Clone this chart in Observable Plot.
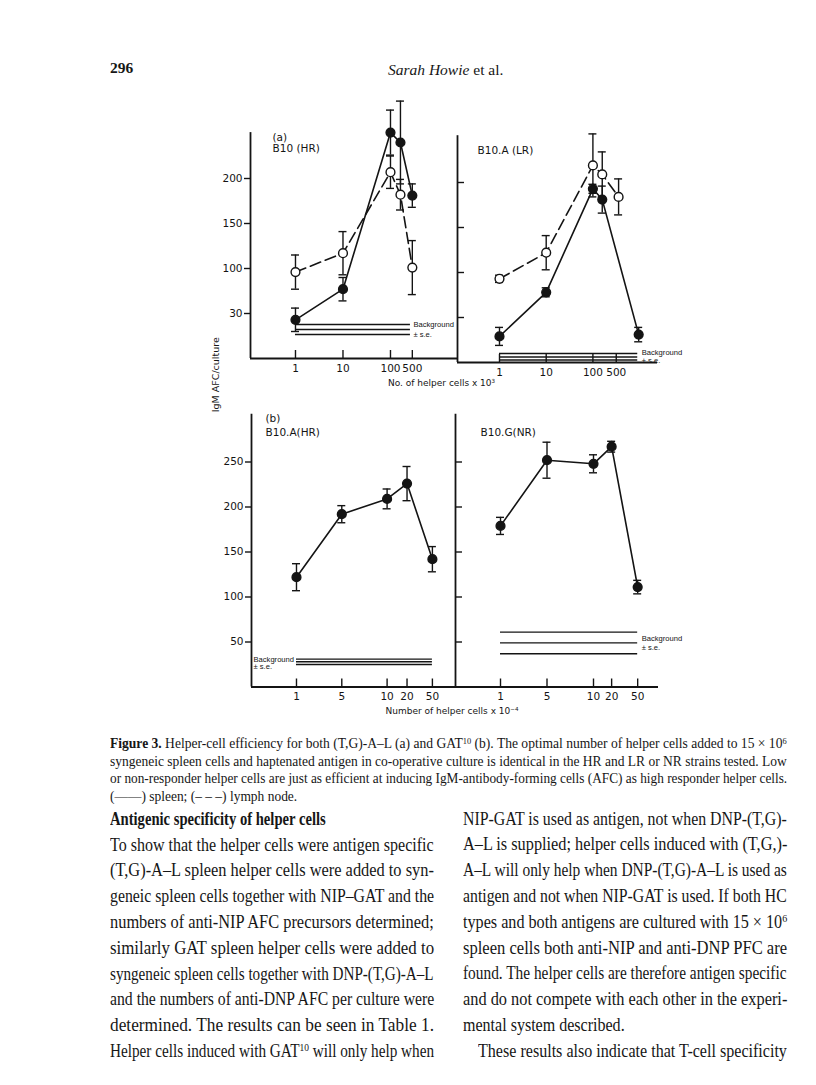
<!DOCTYPE html>
<html><head><meta charset="utf-8">
<script src="https://cdn.jsdelivr.net/npm/d3@7"></script>
<script src="https://cdn.jsdelivr.net/npm/@observablehq/plot@0.6"></script>
<style>
html,body{margin:0;padding:0;background:#fff;}
#page{position:relative;width:816px;height:1085px;overflow:hidden;background:#fff;font-family:"Liberation Serif","Times New Roman",serif;color:#161616;}
.line{position:absolute;white-space:nowrap;line-height:1;}
.lbl{position:absolute;white-space:nowrap;line-height:1;font-family:"DejaVu Sans",sans-serif;color:#161616;}
sup{font-size:0.62em;vertical-align:0.5em;line-height:0;}
</style></head><body><div id="page"></div>
<script>
// ---------------- DATA ----------------
// x values are positions along the hand-drawn dose axis (tick 1 = 0, next labelled tick = 1, ...)
// Panel (a) left: B10 (HR)
const aXTickLabels = ["1", "10", "100", "500"];
const aLeftXTicks = [0, 1, 2, 2.46];
const aLeftSpleenX = [0, 1, 2, 2.21, 2.46];
const aLeftSpleenY = [43, 77, 251, 240, 181];
const aLeftSpleenSE = [13, 13, 25, 46, 13];
const aLeftLymphX = [0, 1, 2, 2.21, 2.46];
const aLeftLymphY = [96, 117, 207, 182, 101];
const aLeftLymphSE = [19, 24, 18, 17, 30];
const aLeftBackground = [37.8, 32.2, 26.7];

// Panel (a) right: B10.A (LR)
const aRightXTicks = [0, 1, 2, 2.5];
const aRightLymphX = [0, 1, 2, 2.2, 2.55];
const aRightLymphY = [93, 122, 219, 209, 184];
const aRightLymphSE = [4, 19, 35, 25, 20];
const aRightSpleenX = [0, 1, 2, 2.2, 2.98];
const aRightSpleenY = [29, 78, 193, 181, 31];
const aRightSpleenSE = [10, 5, 5, 15, 8];
const aRightBackground = [10, 6.1, 2.8];

// y ticks of panel (a) (the lowest tick is printed "30" in the original)
const aYTicks = [50, 100, 150, 200];
const aYTickLabels = ["30", "100", "150", "200"];

// Panel (b) left: B10.A (HR)
const bXTickLabels = ["1", "5", "10", "20", "50"];
const bLeftXTicks = [0, 1, 2, 2.44, 3];
const bLeftSpleenX = [0, 1, 2, 2.44, 3];
const bLeftSpleenY = [122, 192, 209, 226, 142];
const bLeftSpleenSE = [15, 9.5, 11, 19, 14];
const bLeftBackground = [31, 28, 25];

// Panel (b) right: B10.G (NR)
const bRightXTicks = [0, 1, 2, 2.39, 2.95];
const bRightSpleenX = [0, 1, 2, 2.39, 2.95];
const bRightSpleenY = [179, 252, 248, 267, 111];
const bRightSpleenSE = [9.5, 20, 10, 6, 7.5];
const bRightBackground = [61, 49, 37];

const bYTicks = [50, 100, 150, 200, 250];
const bYTickLabels = ["50", "100", "150", "200", "250"];

// ---------------- DRAWING ----------------
const ink = "#141414";
const page = document.getElementById("page");

function makePanel(c) {
  const ppu = c.plotW / (c.xDomain[1] - c.xDomain[0]);
  const ppy = c.plotH / (c.yDomain[1] - c.yDomain[0]);
  const x0 = c.xDomain[0];
  const xLab = new Map(c.xTicks.map((t, i) => [t, c.xTickLabels[i]]));
  const yLab = new Map(c.yTicks.map((t, i) => [t, c.yTickLabels[i]]));
  const marks = [];
  // background ± s.e. band
  marks.push(Plot.ruleY(c.bg, {x1: () => c.bgFrom, x2: () => c.bgTo, stroke: ink, strokeWidth: 1.4}));
  for (const t of c.bgText) {
    marks.push(Plot.text([t.text], {x: () => t.atX, y: () => t.atY, dx: t.dx, dy: t.dy, text: d => d,
      textAnchor: "start", fontSize: t.size || 7.6, fontFamily: "Liberation Sans, sans-serif", fill: ink, letterSpacing: -0.45}));
  }
  // axes
  marks.push(Plot.ruleY([0], {stroke: ink, strokeWidth: 1.8}));
  marks.push(Plot.ruleX([x0], {y1: 0, y2: c.axisTop, stroke: ink, strokeWidth: 1.8}));
  marks.push(Plot.ruleX(c.xTicks, {y1: 0, y2: 8 / ppy, stroke: ink, strokeWidth: 1.4}));
  marks.push(Plot.axisX({ticks: c.xTicks, tickFormat: d => xLab.get(d), tickSize: 0, tickPadding: 6, label: null, fontSize: 10.5}));
  if (c.yLabels) {
    marks.push(Plot.axisY({ticks: c.yTicks, tickFormat: d => yLab.get(d), tickSize: 6, tickPadding: 2, label: null, fontSize: 10.5, strokeWidth: 1.4}));
  } else {
    marks.push(Plot.ruleY(c.yTicks, {x1: () => x0, x2: () => x0 + 7 / ppu, stroke: ink, strokeWidth: 1.4}));
  }
  // series
  const cap = 4 / ppu;
  const allRows = [];
  for (const s of c.series) {
    const rows = s.x.map((xi, i) => ({x: xi, y: s.y[i], lo: s.y[i] - s.se[i], hi: s.y[i] + s.se[i]}));
    allRows.push([s, rows]);
    marks.push(Plot.line(rows, {x: "x", y: "y", stroke: ink, strokeWidth: 1.6, ...(s.open ? {strokeDasharray: "11,5"} : {})}));
    marks.push(Plot.ruleX(rows, {x: "x", y1: "lo", y2: "hi", stroke: ink, strokeWidth: 1.4}));
    marks.push(Plot.ruleY(rows, {y: "hi", x1: d => d.x - cap, x2: d => d.x + cap, stroke: ink, strokeWidth: 1.4}));
    marks.push(Plot.ruleY(rows, {y: "lo", x1: d => d.x - cap, x2: d => d.x + cap, stroke: ink, strokeWidth: 1.4}));
  }
  for (const [s, rows] of allRows) {
    marks.push(Plot.dot(rows, {x: "x", y: "y", r: 4.4, fill: s.open ? "white" : ink, stroke: ink, strokeWidth: 1.4}));
  }
  // panel labels
  for (const t of c.labels) {
    marks.push(Plot.text([t.text], {frameAnchor: "top-left", dx: t.dx, dy: t.dy, text: d => d, textAnchor: "start",
      lineAnchor: "middle", fontSize: 10.5, fill: ink}));
  }
  const svg = Plot.plot({
    width: c.mL + c.plotW + c.mR,
    height: c.mT + c.plotH + c.mB,
    marginLeft: c.mL, marginRight: c.mR, marginTop: c.mT, marginBottom: c.mB,
    x: {domain: c.xDomain, axis: null},
    y: {domain: c.yDomain, axis: null},
    style: {background: "transparent", overflow: "visible", fontFamily: "DejaVu Sans, sans-serif", fontSize: "10.5px", color: ink},
    marks
  });
  svg.style.position = "absolute";
  svg.style.left = c.left + "px";
  svg.style.top = c.top + "px";
  svg.style.maxWidth = "none";
  page.appendChild(svg);
}

// Panel (a) left
makePanel({
  left: 205, top: 85, mL: 45, mR: 4, mT: 12, mB: 26, plotW: 208, plotH: 261,
  xDomain: [-0.947, 3.432], yDomain: [0, 290], axisTop: 251,
  xTicks: aLeftXTicks, xTickLabels: aXTickLabels, yTicks: aYTicks, yTickLabels: aYTickLabels, yLabels: true,
  series: [
    {x: aLeftLymphX, y: aLeftLymphY, se: aLeftLymphSE, open: true},
    {x: aLeftSpleenX, y: aLeftSpleenY, se: aLeftSpleenSE, open: false}
  ],
  bg: aLeftBackground, bgFrom: 0, bgTo: 2.42,
  bgText: [{text: "Background", atX: 2.42, atY: aLeftBackground[0], dx: 3, dy: 0},
           {text: "± s.e.", atX: 2.42, atY: aLeftBackground[2], dx: 3, dy: 0}],
  labels: [{text: "(a)", dx: 22, dy: 40}, {text: "B10 (HR)", dx: 22, dy: 51}]
});

// Panel (a) right
makePanel({
  left: 454, top: 89, mL: 3, mR: 60, mT: 12, mB: 26, plotW: 200, plotH: 261,
  xDomain: [-0.899, 3.383], yDomain: [0, 290], axisTop: 252,
  xTicks: aRightXTicks, xTickLabels: aXTickLabels, yTicks: aYTicks, yTickLabels: aYTickLabels, yLabels: false,
  series: [
    {x: aRightLymphX, y: aRightLymphY, se: aRightLymphSE, open: true},
    {x: aRightSpleenX, y: aRightSpleenY, se: aRightSpleenSE, open: false}
  ],
  bg: aRightBackground, bgFrom: 0, bgTo: 2.96,
  bgText: [{text: "Background", atX: 2.96, atY: aRightBackground[0], dx: 4, dy: -1},
           {text: "± s.e.", atX: 2.96, atY: aRightBackground[2], dx: 4, dy: 1}],
  labels: [{text: "B10.A (LR)", dx: 20, dy: 49}]
});

// Panel (b) left
makePanel({
  left: 206, top: 401.5, mL: 45, mR: 2, mT: 10, mB: 26, plotW: 206, plotH: 274.5,
  xDomain: [-0.993, 3.554], yDomain: [0, 305], axisTop: 303,
  xTicks: bLeftXTicks, xTickLabels: bXTickLabels, yTicks: bYTicks, yTickLabels: bYTickLabels, yLabels: true,
  series: [{x: bLeftSpleenX, y: bLeftSpleenY, se: bLeftSpleenSE, open: false}],
  bg: bLeftBackground, bgFrom: 0, bgTo: 3,
  bgText: [{text: "Background", atX: -0.993, atY: bLeftBackground[0], dx: 2, dy: 0},
           {text: "± s.e.", atX: -0.993, atY: bLeftBackground[2], dx: 2, dy: 2}],
  labels: [{text: "(b)", dx: 14, dy: 6.5}, {text: "B10.A(HR)", dx: 14, dy: 20.5}]
});

// Panel (b) right
makePanel({
  left: 452, top: 401.5, mL: 3, mR: 60, mT: 10, mB: 26, plotW: 203, plotH: 274.5,
  xDomain: [-0.968, 3.398], yDomain: [0, 305], axisTop: 303,
  xTicks: bRightXTicks, xTickLabels: bXTickLabels, yTicks: bYTicks, yTickLabels: bYTickLabels, yLabels: false,
  series: [{x: bRightSpleenX, y: bRightSpleenY, se: bRightSpleenSE, open: false}],
  bg: bRightBackground, bgFrom: 0, bgTo: 2.95,
  bgText: [{text: "Background", atX: 2.95, atY: bRightBackground[0], dx: 4, dy: 6},
           {text: "± s.e.", atX: 2.95, atY: bRightBackground[1], dx: 4, dy: 5}],
  labels: [{text: "B10.G(NR)", dx: 25, dy: 20.5}]
});

// ---------------- TEXT ----------------
function lbl(html, x, y, size, opt = {}) {
  const d = document.createElement("div");
  d.className = "lbl";
  d.innerHTML = html;
  d.style.fontSize = size + "px";
  page.appendChild(d);
  const w = d.offsetWidth, h = d.offsetHeight;
  if (opt.rotate) {
    d.style.left = (x - w / 2) + "px";
    d.style.top = (y - h / 2) + "px";
    d.style.transform = "rotate(-90deg)";
  } else {
    d.style.left = (opt.center ? x - w / 2 : x) + "px";
    d.style.top = (y - h / 2) + "px";
  }
  return d;
}
lbl("No. of helper cells x 10<sup>3</sup>", 388, 383, 9);
lbl("Number of helper cells x 10<sup>−4</sup>", 452, 711, 9, {center: true});
lbl("IgM AFC/culture", 215, 375, 9.5, {rotate: true});

function textLine(html, o) {
  const d = document.createElement("div");
  d.className = "line";
  d.innerHTML = html;
  d.style.left = o.x + "px";
  d.style.fontSize = o.size + "px";
  d.style.top = (o.y - o.size * 0.58) + "px";
  if (o.weight) d.style.fontWeight = o.weight;
  page.appendChild(d);
  const w = d.offsetWidth;
  let s = 1;
  if (o.scale) s = o.scale;
  else if (o.width) {
    if (o.fit || w > o.width) s = o.width / w;
    else if (o.justify) {
      const n = (d.textContent.match(/ /g) || []).length;
      if (n) d.style.wordSpacing = ((o.width - w) / n) + "px";
    }
  }
  if (s !== 1) { d.style.transformOrigin = "0 0"; d.style.transform = `scaleX(${s})`; }
  return s;
}

// header
textLine("296", {x: 110, y: 69, size: 15.5, weight: "bold"});
textLine("<i>Sarah Howie</i> et al.", {x: 388, y: 71, size: 15.5});

// caption
const captionLines = [
  "<b>Figure 3.</b> Helper-cell efficiency for both (T,G)-A–L (a) and GAT<sup>10</sup> (b). The optimal number of helper cells added to 15 × 10<sup>6</sup>",
  "syngeneic spleen cells and haptenated antigen in co-operative culture is identical in the HR and LR or NR strains tested. Low",
  "or non-responder helper cells are just as efficient at inducing IgM-antibody-forming cells (AFC) as high responder helper cells.",
  "(——) spleen; (– – –) lymph node."
];
const capY = [744, 762, 779.5, 797];
let capScales = [];
captionLines.forEach((t, i) => {
  if (i < 3) capScales.push(textLine(t, {x: 110, y: capY[i], size: 14.5, width: 677, justify: true}));
  else textLine(t, {x: 110, y: capY[i], size: 14.5, scale: d3.mean(capScales)});
});

// body text
const leftCol = [
  "To show that the helper cells were antigen specific",
  "(T,G)-A–L spleen helper cells were added to syn-",
  "geneic spleen cells together with NIP–GAT and the",
  "numbers of anti-NIP AFC precursors determined;",
  "similarly GAT spleen helper cells were added to",
  "syngeneic spleen cells together with DNP-(T,G)-A–L",
  "and the numbers of anti-DNP AFC per culture were",
  "determined. The results can be seen in Table 1.",
  "Helper cells induced with GAT<sup>10</sup> will only help when"
];
const rightCol = [
  "NIP-GAT is used as antigen, not when DNP-(T,G)-",
  "A–L is supplied; helper cells induced with (T,G,)-",
  "A–L will only help when DNP-(T,G)-A–L is used as",
  "antigen and not when NIP-GAT is used. If both HC",
  "types and both antigens are cultured with 15 × 10<sup>6</sup>",
  "spleen cells both anti-NIP and anti-DNP PFC are",
  "found. The helper cells are therefore antigen specific",
  "and do not compete with each other in the experi-",
  "mental system described.",
  "These results also indicate that T-cell specificity"
];
const lineGap = 25.8;
const bodySize = 18;
textLine("<b>Antigenic specificity of helper cells</b>", {x: 110, y: 820, size: bodySize, width: 216, fit: true});
const bodyScales = [];
leftCol.forEach((t, i) => bodyScales.push(textLine(t, {x: 110, y: 846 + i * lineGap, size: bodySize, width: 324, justify: true})));
rightCol.forEach((t, i) => {
  const y = 820 + i * lineGap;
  if (i === 8) textLine(t, {x: 463, y, size: bodySize, scale: d3.mean(bodyScales)});
  else if (i === 9) textLine(t, {x: 478, y, size: bodySize, width: 309, justify: true});
  else bodyScales.push(textLine(t, {x: 463, y, size: bodySize, width: 324, justify: true}));
});
</script></body></html>
